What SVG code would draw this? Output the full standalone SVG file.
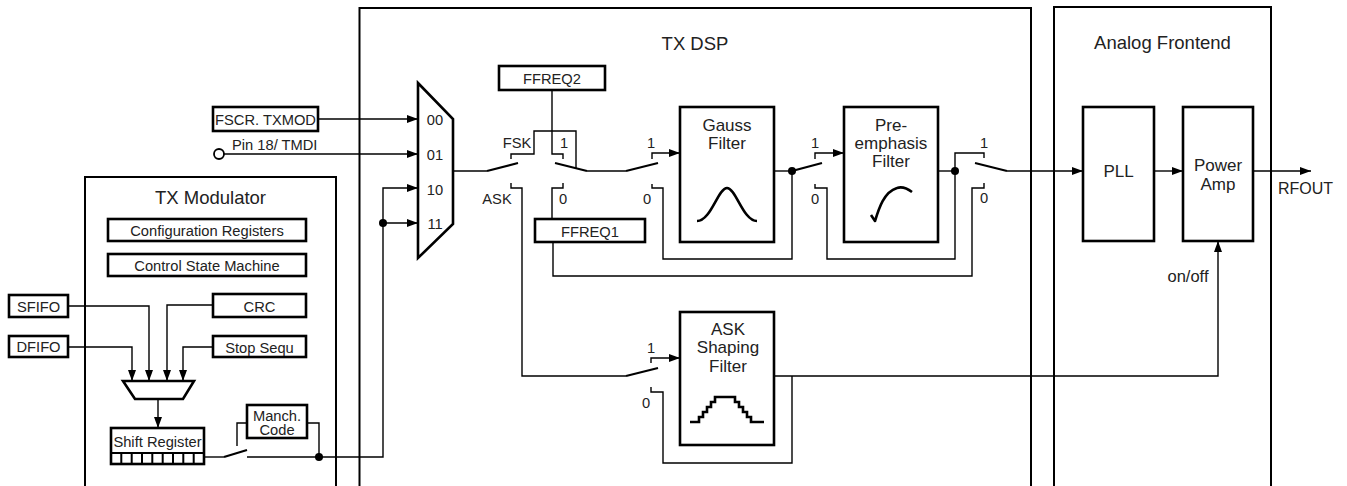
<svg xmlns="http://www.w3.org/2000/svg" width="1347" height="486" viewBox="0 0 1347 486">
<defs>
<style>
.cont{fill:none;stroke:#000;stroke-width:2}
.box{fill:#fff;stroke:#000;stroke-width:2.6}
.w{fill:none;stroke:#000;stroke-width:1.4}
.bl{fill:none;stroke:#000;stroke-width:2.2}
.cv{fill:none;stroke:#000;stroke-width:2.6;stroke-linejoin:round}
.dot{fill:#000}
text{font-family:"Liberation Sans",Arial,Helvetica,sans-serif;fill:#222}
.t{font-size:18.5px;text-anchor:middle}
.s{font-size:14.7px}
.m{text-anchor:middle}
.f{font-size:17px;text-anchor:middle}
</style>
<marker id="a" markerWidth="11" markerHeight="8" refX="11" refY="4" orient="auto" markerUnits="userSpaceOnUse"><path d="M0,0 L11,4 L0,8 z" fill="#000"/></marker>
</defs>
<rect width="1347" height="486" fill="#fff"/>

<g id="containers">
<rect class="cont" x="85" y="177" width="251" height="330"/>
<text class="t" x="210.5" y="204">TX Modulator</text>
<rect class="cont" x="359.5" y="8" width="671.5" height="500"/>
<text class="t" x="695" y="50">TX DSP</text>
<rect class="cont" x="1054" y="7" width="217" height="500"/>
<text class="t" x="1162.5" y="49">Analog Frontend</text>
</g>

<g id="connectors">
<!-- TX Modulator -->
<path class="w" d="M68,306 H149 V381" marker-end="url(#a)"/>
<path class="w" d="M68,347 H132 V381" marker-end="url(#a)"/>
<path class="w" d="M213,305 H167 V381" marker-end="url(#a)"/>
<path class="w" d="M213,347 H183 V381" marker-end="url(#a)"/>
<path class="w" d="M158,399 V428" marker-end="url(#a)"/>
<path class="w" d="M204,457 H224"/>
<path class="bl" d="M224,457 L247,450"/>
<path class="w" d="M237,446 V423 H247"/>
<path class="w" d="M247,457 H383 V188 H418" marker-end="url(#a)"/>
<path class="w" d="M307,423 H319 V457"/>
<path class="w" d="M383,223 H418" marker-end="url(#a)"/>
<circle class="dot" cx="319" cy="457" r="4"/>
<circle class="dot" cx="383" cy="223" r="4"/>
<!-- mux inputs -->
<path class="w" d="M318,119 H418" marker-end="url(#a)"/>
<circle cx="219" cy="154" r="5" fill="#fff" stroke="#000" stroke-width="1.8"/>
<path class="w" d="M224,154 H418" marker-end="url(#a)"/>
<!-- mux out / switch 1 -->
<path class="w" d="M453,171 H487"/>
<path class="bl" d="M487,171 L518,163"/>
<path class="w" d="M511,159 V154 H534 V131 H576 V169"/>
<path class="w" d="M511,183 V188 H522 V376 H626"/>
<!-- switch 2 (FFREQ) -->
<path class="w" d="M552,90 V154 H563 V159"/>
<path class="w" d="M563,183 V188 H552 V219"/>
<path class="bl" d="M587,171 L555,163"/>
<path class="w" d="M587,171 H626"/>
<!-- switch 3 / Gauss -->
<path class="bl" d="M626,171 L658,163"/>
<path class="w" d="M652,159 V153 H680" marker-end="url(#a)"/>
<path class="w" d="M652,184 V188 H663 V259 H792 V171"/>
<path class="w" d="M774,171 H792"/>
<circle class="dot" cx="792" cy="171" r="4"/>
<!-- switch 4 / Pre-emphasis -->
<path class="bl" d="M792,171 L822,163"/>
<path class="w" d="M815,159 V153 H844" marker-end="url(#a)"/>
<path class="w" d="M815,184 V188 H827 V259 H955 V171"/>
<path class="w" d="M938,171 H955"/>
<circle class="dot" cx="955" cy="171" r="4"/>
<!-- switch 5 -->
<path class="w" d="M955,171 V153 H984 V158"/>
<path class="bl" d="M975,163 L1007,171"/>
<path class="w" d="M984,183 V188 H972 V276 H553 V242"/>
<path class="w" d="M1007,171 H1083" marker-end="url(#a)"/>
<!-- ASK path -->
<path class="bl" d="M626,376 L658,368"/>
<path class="w" d="M651,363 V358 H680" marker-end="url(#a)"/>
<path class="w" d="M651,387 V392 H663 V463 H792 V376"/>
<path class="w" d="M774,376 H1218 V241" marker-end="url(#a)"/>
<!-- analog -->
<path class="w" d="M1154,171 H1183" marker-end="url(#a)"/>
<path class="w" d="M1253,171 H1311" marker-end="url(#a)"/>
</g>

<g id="cfg"><rect class="box" x="108" y="219" width="198" height="22"/><text class="s m" x="207" y="236">Configuration Registers</text></g>
<g id="csm"><rect class="box" x="108" y="254" width="198" height="22"/><text class="s m" x="207" y="271">Control State Machine</text></g>
<g id="sfifo"><rect class="box" x="9" y="295" width="59" height="22"/><text class="s m" x="38.5" y="311.5">SFIFO</text></g>
<g id="dfifo"><rect class="box" x="9" y="336" width="59" height="21"/><text class="s m" x="38.5" y="352">DFIFO</text></g>
<g id="crc"><rect class="box" x="213" y="294" width="93" height="23"/><text class="s m" x="259.5" y="311.5">CRC</text></g>
<g id="stop"><rect class="box" x="213" y="336" width="93" height="21"/><text class="s m" x="259.5" y="352.5">Stop Sequ</text></g>
<g id="smux"><polygon class="box" points="123,381 194,381 183,399 135,399"/></g>
<g id="shiftreg">
<rect class="box" x="111" y="428" width="93" height="36"/>
<text class="s m" x="157.5" y="447">Shift Register</text>
<path fill="none" stroke="#000" stroke-width="2" d="M111,453 H204 M121.3,453 V464 M131.7,453 V464 M142,453 V464 M152.3,453 V464 M162.7,453 V464 M173,453 V464 M183.3,453 V464 M193.7,453 V464"/>
</g>
<g id="manch"><rect class="box" x="247" y="405" width="60" height="33"/><text class="s m" x="277" y="421">Manch.</text><text class="s m" x="277" y="435">Code</text></g>

<g id="fscr"><rect class="box" x="213" y="107" width="105" height="24"/><text class="s m" x="265.5" y="125">FSCR. TXMOD</text></g>
<g id="pin"><text class="s" x="232" y="150">Pin 18/ TMDI</text></g>

<g id="mux">
<polygon class="box" points="418,83 453,119 453,224 418,258"/>
<text class="s m" x="435" y="125">00</text>
<text class="s m" x="435" y="160">01</text>
<text class="s m" x="435" y="195">10</text>
<text class="s m" x="435" y="229">11</text>
</g>

<g id="labels">
<text class="s m" x="517" y="148">FSK</text>
<text class="s m" x="497" y="204">ASK</text>
<text class="s m" x="564" y="148">1</text>
<text class="s m" x="563" y="204">0</text>
<text class="s m" x="651" y="148">1</text>
<text class="s m" x="647" y="204">0</text>
<text class="s m" x="815" y="148">1</text>
<text class="s m" x="815" y="204">0</text>
<text class="s m" x="984" y="148">1</text>
<text class="s m" x="984" y="203">0</text>
<text class="s m" x="651" y="353">1</text>
<text class="s m" x="646" y="408">0</text>
<text x="1188" y="282" style="font-size:16.5px;text-anchor:middle">on/off</text>
<text x="1278" y="194" style="font-size:16px">RFOUT</text>
</g>

<g id="ffreq2"><rect class="box" x="499" y="66" width="106" height="24"/><text class="s m" x="552" y="84">FFREQ2</text></g>
<g id="ffreq1"><rect class="box" x="535" y="219" width="110" height="23"/><text class="s m" x="590" y="237">FFREQ1</text></g>

<g id="gauss">
<rect class="box" x="680" y="107" width="94" height="135"/>
<text class="f" x="727" y="131">Gauss</text>
<text class="f" x="727" y="149">Filter</text>
<path class="cv" d="M697,221 C711,221 718,188 727,188 C736,188 743,221 757,221"/>
</g>
<g id="preemph">
<rect class="box" x="844" y="107" width="94" height="135"/>
<text class="f" x="891" y="131">Pre-</text>
<text class="f" x="891" y="149">emphasis</text>
<text class="f" x="891" y="167">Filter</text>
<path class="cv" d="M871,215 L875,221 C879,208 884,192 897,188 C903,186 908,189 912,192"/>
</g>
<g id="askfilter">
<rect class="box" x="680" y="312" width="94" height="133"/>
<text class="f" x="728" y="335">ASK</text>
<text class="f" x="728" y="353">Shaping</text>
<text class="f" x="728" y="372">Filter</text>
<path class="cv" style="stroke-linejoin:miter" d="M690,422 H699 V417 H703 V412 H707 V407 H711 V402 H715 V397 H735 V402 H739 V407 H743 V412 H747 V417 H751 V422 H764"/>
</g>
<g id="pll"><rect class="box" x="1083" y="107" width="71" height="134"/><text class="f" x="1118.5" y="177">PLL</text></g>
<g id="pa"><rect class="box" x="1183" y="107" width="70" height="134"/><text class="f" x="1218" y="171">Power</text><text class="f" x="1218" y="190">Amp</text></g>
</svg>
